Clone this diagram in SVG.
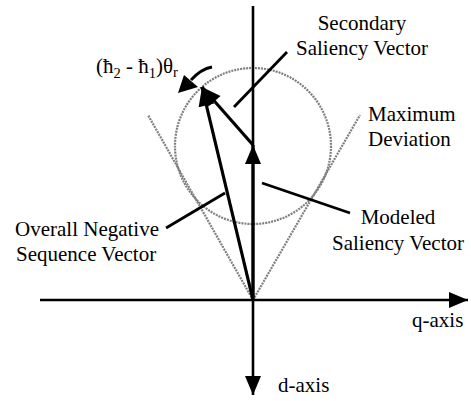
<svg xmlns="http://www.w3.org/2000/svg" width="471" height="401" viewBox="0 0 471 401">
  <style>
    .lbl { font-family: "Liberation Serif", "Times New Roman", serif; font-size: 21px; fill: #000; }
    .sub { font-size: 14.5px; }
    .ax { stroke: #000; stroke-width: 2.6; fill: none; }
    .vec { stroke: #000; stroke-width: 3.2; fill: none; }
    .lead { stroke: #000; stroke-width: 2.8; fill: none; }
    .grey { stroke: #7f7f7f; stroke-width: 2.2; fill: none; stroke-dasharray: 2 1; }
  </style>
  <defs>
    <marker id="ah" markerUnits="userSpaceOnUse" markerWidth="20" markerHeight="18" refX="19" refY="8" orient="auto" overflow="visible">
      <path d="M0,0 L19,8 L0,16 Z" fill="#000"/>
    </marker>
  </defs>
  <rect width="471" height="401" fill="#fff"/>

  <g id="max-deviation-shape">
    <circle class="grey" cx="253" cy="146" r="78"/>
    <line class="grey" x1="253" y1="300" x2="148" y2="115"/>
    <line class="grey" x1="253" y1="300" x2="360" y2="115"/>
  </g>

  <g id="connectors">
    <line id="q-axis-line" class="ax" x1="40" y1="300" x2="468" y2="300" marker-end="url(#ah)"/>
    <line id="d-axis-line" class="ax" x1="253" y1="6" x2="253" y2="395" marker-end="url(#ah)"/>
    <line id="modeled-vector" class="vec" x1="253" y1="300" x2="253" y2="145" marker-end="url(#ah)"/>
    <line id="secondary-vector" class="vec" x1="253" y1="145" x2="202" y2="87" marker-end="url(#ah)"/>
    <line id="overall-vector" class="vec" x1="253" y1="300" x2="202" y2="87" marker-end="url(#ah)"/>
    <line class="lead" x1="287" y1="52" x2="234" y2="107"/>
    <line class="lead" x1="166" y1="228" x2="225" y2="193"/>
    <line class="lead" x1="262" y1="183" x2="350" y2="213"/>
    <path class="lead" d="M212,67 Q201,69 191,80" stroke-width="3.4"/>
    <polygon points="178,93 184,75 198,87" fill="#000"/>
  </g>

  <g id="rotation-label">
    <text class="lbl" x="96" y="73">(ħ<tspan class="sub" dy="5">2</tspan><tspan dy="-5"> - ħ</tspan><tspan class="sub" dy="5">1</tspan><tspan dy="-5">)θ</tspan><tspan class="sub" dy="4">r</tspan></text>
  </g>
  <g id="secondary-label">
    <text class="lbl" x="362" y="30" text-anchor="middle">Secondary</text>
    <text class="lbl" x="362" y="55" text-anchor="middle">Saliency Vector</text>
  </g>
  <g id="max-deviation-label">
    <text class="lbl" x="368" y="121">Maximum</text>
    <text class="lbl" x="368" y="146">Deviation</text>
  </g>
  <g id="modeled-label">
    <text class="lbl" x="398" y="224" text-anchor="middle">Modeled</text>
    <text class="lbl" x="398" y="250" text-anchor="middle">Saliency Vector</text>
  </g>
  <g id="overall-label">
    <text class="lbl" x="15" y="236">Overall Negative</text>
    <text class="lbl" x="16" y="261">Sequence Vector</text>
  </g>
  <g id="q-axis-label">
    <text class="lbl" x="412" y="327">q-axis</text>
  </g>
  <g id="d-axis-label">
    <text class="lbl" x="278" y="392">d-axis</text>
  </g>
</svg>
